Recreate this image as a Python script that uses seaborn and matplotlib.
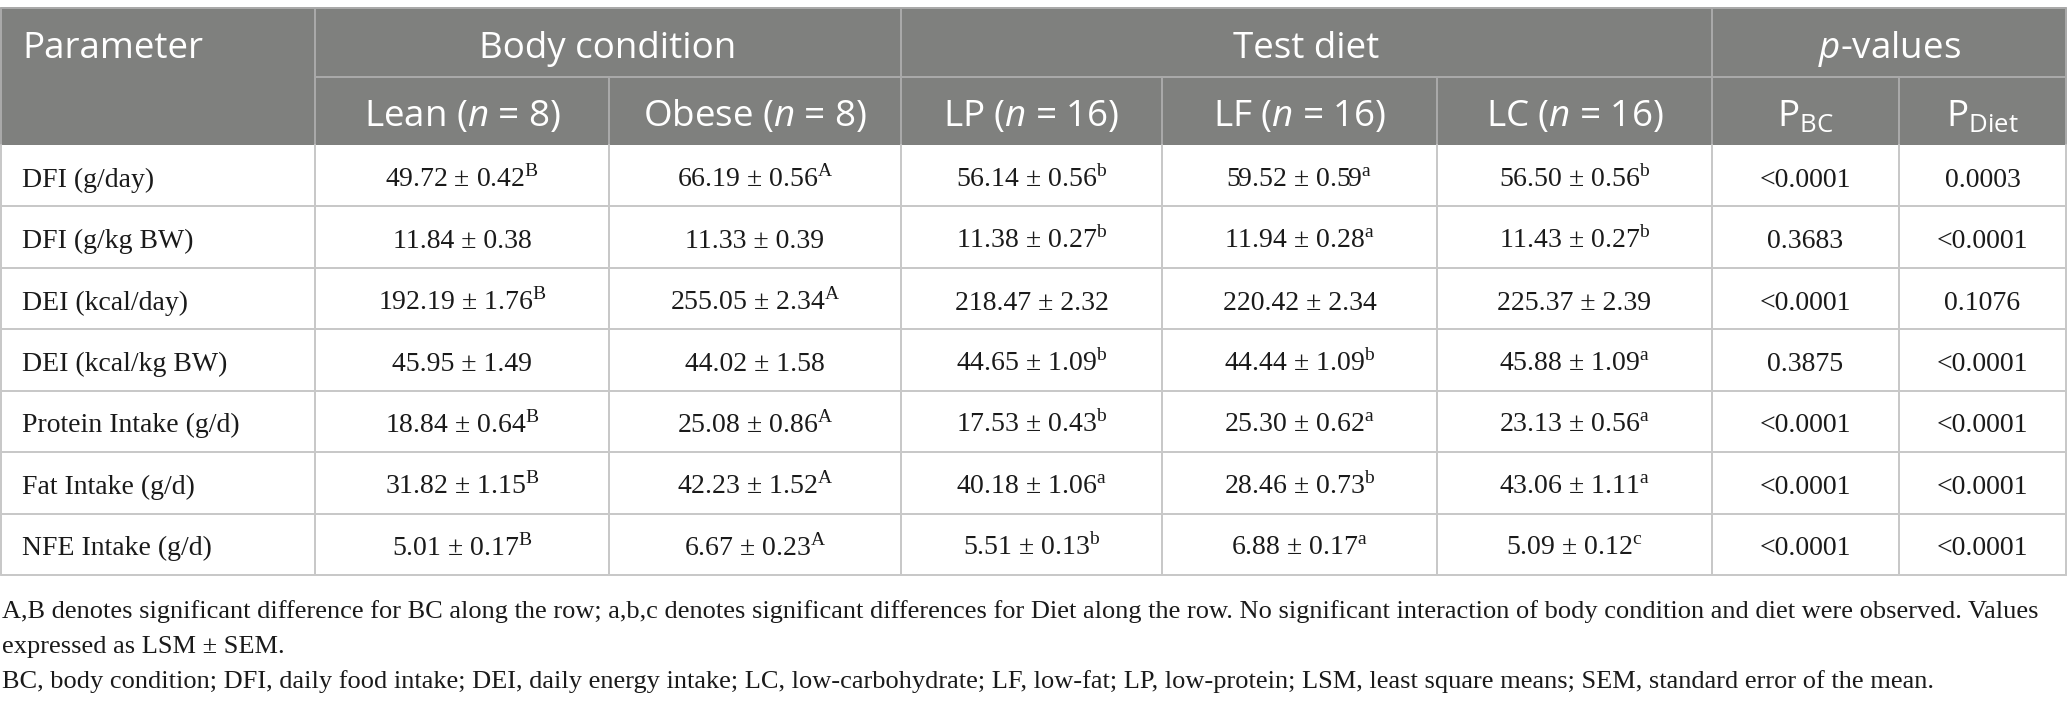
import matplotlib
matplotlib.use("Agg")
import matplotlib.pyplot as plt
from matplotlib.patches import Rectangle
import seaborn as sns

# --- DATA ---
params = ["DFI (g/day)", "DFI (g/kg BW)", "DEI (kcal/day)", "DEI (kcal/kg BW)",
          "Protein Intake (g/d)", "Fat Intake (g/d)", "NFE Intake (g/d)"]

lean_mean = [49.72, 11.84, 192.19, 45.95, 18.84, 31.82, 5.01]
lean_sem = [0.42, 0.38, 1.76, 1.49, 0.64, 1.15, 0.17]
lean_sig = ["B", "", "B", "", "B", "B", "B"]

obese_mean = [66.19, 11.33, 255.05, 44.02, 25.08, 42.23, 6.67]
obese_sem = [0.56, 0.39, 2.34, 1.58, 0.86, 1.52, 0.23]
obese_sig = ["A", "", "A", "", "A", "A", "A"]

lp_mean = [56.14, 11.38, 218.47, 44.65, 17.53, 40.18, 5.51]
lp_sem = [0.56, 0.27, 2.32, 1.09, 0.43, 1.06, 0.13]
lp_sig = ["b", "b", "", "b", "b", "a", "b"]

lf_mean = [59.52, 11.94, 220.42, 44.44, 25.30, 28.46, 6.88]
lf_sem = [0.59, 0.28, 2.34, 1.09, 0.62, 0.73, 0.17]
lf_sig = ["a", "a", "", "b", "a", "b", "a"]

lc_mean = [56.50, 11.43, 225.37, 45.88, 23.13, 43.06, 5.09]
lc_sem = [0.56, 0.27, 2.39, 1.09, 0.56, 1.11, 0.12]
lc_sig = ["b", "b", "", "a", "a", "a", "c"]

p_bc = ["<0.0001", "0.3683", "<0.0001", "0.3875", "<0.0001", "<0.0001", "<0.0001"]
p_diet = ["0.0003", "<0.0001", "0.1076", "<0.0001", "<0.0001", "<0.0001", "<0.0001"]

group_labels = ["Body condition", "Test diet", r"$\mathit{p}$-values"]
sub_labels = [r"Lean ($\mathit{n}$ = 8)", r"Obese ($\mathit{n}$ = 8)",
              r"LP ($\mathit{n}$ = 16)", r"LF ($\mathit{n}$ = 16)", r"LC ($\mathit{n}$ = 16)",
              r"P$_{\mathsf{BC}}$", r"P$_{\mathsf{Diet}}$"]

footnotes = [
    "A,B denotes significant difference for BC along the row; a,b,c denotes significant differences for Diet along the row. No significant interaction of body condition and diet were observed. Values",
    "expressed as LSM \u00b1 SEM.",
    "BC, body condition; DFI, daily food intake; DEI, daily energy intake; LC, low-carbohydrate; LF, low-fat; LP, low-protein; LSM, least square means; SEM, standard error of the mean.",
]

# --- LAYOUT (pixels) ---
W, H = 2068, 706
COL_EDGES = [1, 315, 609, 901, 1162, 1437, 1712, 1899, 2066]
GROUP_SPANS = [(1, 3), (3, 6), (6, 8)]  # column-edge indices
HDR_TOP, HDR_MID, HDR_BOT = 8, 77, 145
ROW_H = (575 - HDR_BOT) / len(params)
HDR_BG = "#7f807e"
HDR_LINE = "#a9a9a9"
BODY_LINE = "#c8c8c8"
TXT = "#1a1a1a"
LW = 1.44

sns.set_theme(style="white")
plt.rcParams["font.family"] = ["Liberation Serif", "DejaVu Serif"]
plt.rcParams["mathtext.fontset"] = "custom"
plt.rcParams["mathtext.rm"] = "Liberation Serif"
plt.rcParams["mathtext.it"] = "Open Sans:italic"
plt.rcParams["mathtext.sf"] = "Open Sans"

SANS = ["Open Sans", "DejaVu Sans"]
SERIF = ["Liberation Serif", "DejaVu Serif"]
HDR_FS, BODY_FS, NOTE_FS = 26.5, 20, 19

fig = plt.figure(figsize=(W / 100, H / 100), dpi=100)
ax = fig.add_axes([0, 0, 1, 1])
ax.set_xlim(0, W)
ax.set_ylim(H, 0)
ax.axis("off")


def cell(mean, sem, sig):
    s = f"{mean:.2f} \u00b1 {sem:.2f}"
    if sig:
        s += r"$^{\mathrm{" + sig + "}}$"
    return s


# header background
ax.add_patch(Rectangle((COL_EDGES[0], HDR_TOP), COL_EDGES[-1] - COL_EDGES[0],
                       HDR_BOT - HDR_TOP, color=HDR_BG, lw=0, zorder=1))

# header lines
ax.plot([COL_EDGES[0], COL_EDGES[-1]], [HDR_TOP, HDR_TOP], color=HDR_LINE, lw=LW, zorder=2)
ax.plot([COL_EDGES[1], COL_EDGES[-1]], [HDR_MID, HDR_MID], color=HDR_LINE, lw=LW, zorder=2)
for i, x in enumerate(COL_EDGES):
    if i in (0, 1, 3, 6, 8):
        ax.plot([x, x], [HDR_TOP, HDR_BOT], color=HDR_LINE, lw=LW, zorder=2)
    else:
        ax.plot([x, x], [HDR_MID, HDR_BOT], color=HDR_LINE, lw=LW, zorder=2)

# header text
ax.text(22, HDR_MID - 19, "Parameter", family=SANS, fontsize=HDR_FS, color="white",
        ha="left", va="baseline", zorder=3)
for label, (a, b) in zip(group_labels, GROUP_SPANS):
    xc = (COL_EDGES[a] + COL_EDGES[b]) / 2
    ax.text(xc, HDR_MID - 19, label, family=SANS, fontsize=HDR_FS, color="white",
            ha="center", va="baseline", zorder=3)
for j, label in enumerate(sub_labels):
    xc = (COL_EDGES[j + 1] + COL_EDGES[j + 2]) / 2
    ax.text(xc, HDR_BOT - 19, label, family=SANS, fontsize=HDR_FS, color="white",
            ha="center", va="baseline", zorder=3)

# body
columns = [
    [cell(m, s, g) for m, s, g in zip(lean_mean, lean_sem, lean_sig)],
    [cell(m, s, g) for m, s, g in zip(obese_mean, obese_sem, obese_sig)],
    [cell(m, s, g) for m, s, g in zip(lp_mean, lp_sem, lp_sig)],
    [cell(m, s, g) for m, s, g in zip(lf_mean, lf_sem, lf_sig)],
    [cell(m, s, g) for m, s, g in zip(lc_mean, lc_sem, lc_sig)],
    p_bc,
    p_diet,
]

for r, name in enumerate(params):
    y0 = HDR_BOT + r * ROW_H
    y1 = y0 + ROW_H
    yb = (y0 + y1) / 2 + 11
    ax.plot([COL_EDGES[0], COL_EDGES[-1]], [y1, y1], color=BODY_LINE, lw=LW, zorder=2)
    ax.text(22, yb, name, family=SERIF, fontsize=BODY_FS, color=TXT,
            ha="left", va="baseline", zorder=3)
    for j, col in enumerate(columns):
        xc = (COL_EDGES[j + 1] + COL_EDGES[j + 2]) / 2
        ax.text(xc, yb, col[r], family=SERIF, fontsize=BODY_FS, color=TXT,
                ha="center", va="baseline", zorder=3)

body_bot = HDR_BOT + len(params) * ROW_H
for x in COL_EDGES:
    ax.plot([x, x], [HDR_BOT, body_bot], color=BODY_LINE, lw=LW, zorder=2)

# footnotes
for k, line in enumerate(footnotes):
    ax.text(2, 618 + k * 35, line, family=SERIF, fontsize=NOTE_FS, color=TXT,
            ha="left", va="baseline")

fig.savefig("out.png", dpi=100, facecolor="white")
